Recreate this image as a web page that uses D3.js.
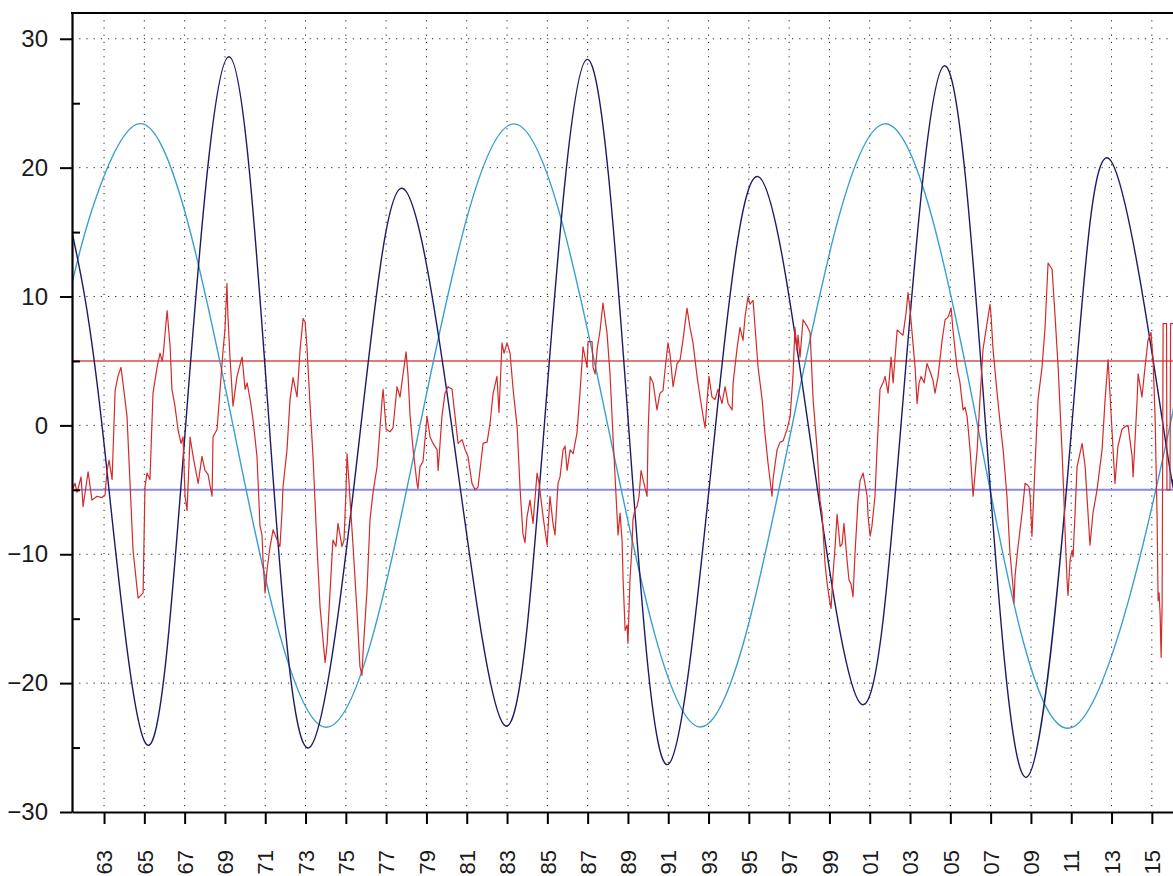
<!DOCTYPE html>
<html>
<head>
<meta charset="utf-8">
<script src="https://cdn.jsdelivr.net/npm/d3@7"></script>
<style>
  body { margin: 0; background: #fff; }
  svg { display: block; }
  .axis text { font-family: Arial, "Liberation Sans", sans-serif; font-size: 24px; fill: #1a1a1a; }
  .x-axis text { font-size: 22px; }
</style>
</head>
<body>
<div id="chart"></div>
<script>
// 画布
const width = 1173;
const height = 876;
const margin = { top: 13, right: 0, bottom: 64, left: 72 };

// 数据
const yearTicks = d3.range(1963, 2016, 2);
const majorTicks = [-30, -20, -10, 0, 10, 20, 30];
const minorTicks = [-25, -15, -5, 5, 15, 25];
const gridYValues = [-20, -10, 0, 10, 20, 30];
const upperLevel = 5;
const lowerLevel = -5;

// 深蓝色周期曲线（极值与过零点）
const navyPoints = [
  [1961.41, 15.0], [1962.9, 0], [1965.1, -24.75], [1967.05, 0], [1969.2, 28.6],
  [1971.2, 0], [1973.19, -25.0], [1975.75, 0], [1977.79, 18.4], [1980.25, 0],
  [1982.9, -23.3], [1984.85, 0], [1986.97, 28.4], [1989.03, 0], [1991.0, -26.3],
  [1993.35, 0], [1995.46, 19.3], [1997.95, 0], [2000.6, -21.65], [2002.55, 0],
  [2004.69, 27.9], [2006.75, 0], [2008.79, -27.3], [2011.03, 0], [2012.93, 20.6],
  [2015.56, 0], [2016.05, -4.2]
];

// 浅蓝色周期曲线
const lightBluePoints = [
  [1961.41, 11.0], [1962.5, 17.2], [1964.7, 23.4], [1966.9, 17.2], [1969.4, 0], [1973.9, -23.4], [1978.68, 0],
  [1983.35, 23.4], [1988.0, 0], [1992.6, -23.4], [1997.15, 0], [2001.75, 23.4],
  [2006.35, 0], [2011.1, -23.4], [2015.9, 0], [2016.05, 1.2]
];

// 红色曲线
const redPoints = [
  [1961.41,-5.0],[1961.56,-4.5],[1961.66,-5.2],[1961.86,-4.0],[1961.96,-6.3],[1962.21,-3.6],[1962.40,-5.8],[1962.65,-5.5],[1962.90,-5.6],[1963.05,-5.4],
  [1963.15,-3.5],[1963.25,-2.7],[1963.40,-4.2],[1963.55,2.7],[1963.69,3.8],[1963.84,4.5],[1963.94,3.3],[1964.14,0.7],[1964.29,-4.5],[1964.44,-9.7],
  [1964.69,-13.4],[1964.94,-13.0],[1965.03,-4.8],[1965.13,-3.7],[1965.28,-4.2],[1965.43,2.5],[1965.63,4.5],[1965.78,5.6],[1965.88,5.0],[1965.93,5.4],
  [1966.13,8.9],[1966.28,6.1],[1966.37,2.8],[1966.52,1.5],[1966.67,-0.3],[1966.82,-1.4],[1966.92,-0.9],[1967.02,-5.5],[1967.12,-6.6],[1967.27,-0.9],
  [1967.42,-2.4],[1967.67,-4.5],[1967.86,-2.4],[1968.01,-3.5],[1968.16,-3.8],[1968.36,-5.5],[1968.41,-0.9],[1968.61,-0.3],[1968.76,2.8],[1968.91,5.9],
  [1969.00,7.4],[1969.10,11.0],[1969.15,8.4],[1969.25,5.3],[1969.40,1.5],[1969.60,3.8],[1969.85,5.3],[1970.00,2.8],[1970.10,3.3],[1970.25,2.0],
  [1970.39,0.5],[1970.59,-2.4],[1970.74,-7.8],[1970.84,-8.5],[1970.89,-10.4],[1970.99,-13.0],[1971.09,-11.2],[1971.24,-9.4],[1971.39,-8.1],[1971.59,-8.9],
  [1971.73,-9.4],[1971.83,-6.8],[1971.88,-4.8],[1972.08,-1.9],[1972.23,2.0],[1972.38,3.7],[1972.58,2.2],[1972.73,5.9],[1972.88,8.3],[1972.98,8.0],
  [1973.07,6.1],[1973.22,1.7],[1973.37,-2.4],[1973.57,-9.4],[1973.72,-14.1],[1973.97,-18.4],[1974.07,-17.0],[1974.22,-12.8],[1974.36,-8.9],[1974.51,-9.4],
  [1974.61,-7.6],[1974.81,-9.4],[1974.91,-8.9],[1975.01,-5.0],[1975.06,-2.2],[1975.16,-4.5],[1975.21,-5.8],[1975.36,-9.4],[1975.56,-14.6],[1975.70,-18.7],
  [1975.80,-19.4],[1975.85,-17.7],[1976.05,-12.8],[1976.20,-7.3],[1976.35,-5.2],[1976.55,-3.2],[1976.80,2.0],[1976.85,2.8],[1977.00,-0.3],[1977.19,-0.5],
  [1977.34,-0.2],[1977.54,3.0],[1977.69,2.2],[1977.84,4.0],[1977.99,5.7],[1978.09,3.8],[1978.19,0.7],[1978.34,-1.9],[1978.53,-4.5],[1978.58,-4.9],
  [1978.68,-3.2],[1978.83,-2.8],[1979.03,0.7],[1979.18,-0.9],[1979.33,-1.4],[1979.53,-1.9],[1979.58,-3.5],[1979.77,0.7],[1979.92,2.5],[1980.07,3.0],
  [1980.27,2.8],[1980.42,0.7],[1980.57,-1.4],[1980.77,-1.1],[1980.92,-1.9],[1981.06,-2.4],[1981.26,-4.5],[1981.41,-5.0],[1981.56,-4.8],[1981.81,-1.4],
  [1982.01,-1.3],[1982.16,0.2],[1982.31,2.5],[1982.50,3.8],[1982.60,1.0],[1982.75,6.4],[1982.85,5.6],[1983.00,6.4],[1983.15,5.6],[1983.30,2.8],
  [1983.50,-0.1],[1983.65,-5.0],[1983.79,-8.4],[1983.89,-9.1],[1983.99,-7.1],[1984.14,-5.8],[1984.29,-7.6],[1984.49,-3.7],[1984.59,-4.5],[1984.79,-7.1],
  [1984.99,-9.3],[1985.13,-5.5],[1985.28,-7.6],[1985.38,-8.5],[1985.53,-4.5],[1985.63,-4.0],[1985.78,-1.9],[1985.88,-1.6],[1985.98,-3.5],[1986.13,-1.9],
  [1986.28,-2.2],[1986.47,-0.6],[1986.62,2.5],[1986.77,6.1],[1986.97,4.5],[1987.02,6.5],[1987.22,6.5],[1987.27,4.5],[1987.37,4.0],[1987.47,5.9],
  [1987.62,7.4],[1987.76,9.5],[1987.96,7.2],[1988.11,4.0],[1988.26,-0.9],[1988.46,-7.0],[1988.51,-8.5],[1988.61,-6.8],[1988.71,-9.0],[1988.76,-12.0],
  [1988.86,-15.9],[1988.96,-15.5],[1989.00,-16.9],[1989.10,-12.0],[1989.20,-9.4],[1989.25,-7.3],[1989.35,-6.5],[1989.45,-6.3],[1989.55,-5.5],[1989.65,-3.5],
  [1989.75,-4.2],[1989.95,-5.5],[1990.00,-0.6],[1990.10,3.8],[1990.25,3.3],[1990.44,1.2],[1990.59,2.5],[1990.74,2.7],[1990.84,4.3],[1990.99,6.4],
  [1991.09,5.5],[1991.24,3.0],[1991.44,4.8],[1991.59,5.1],[1991.73,6.6],[1991.93,9.1],[1992.08,7.6],[1992.23,6.4],[1992.43,3.8],[1992.58,2.2],
  [1992.73,0.7],[1992.83,-0.2],[1992.93,2.0],[1993.02,3.8],[1993.17,2.2],[1993.32,2.0],[1993.47,2.8],[1993.67,1.7],[1993.82,3.0],[1993.97,1.7],
  [1994.17,1.2],[1994.22,3.3],[1994.41,5.9],[1994.56,7.6],[1994.71,6.6],[1994.81,8.4],[1994.96,10.0],[1995.06,9.4],[1995.21,9.7],[1995.31,7.6],
  [1995.46,4.5],[1995.66,2.0],[1995.80,-0.6],[1995.95,-2.9],[1996.15,-5.5],[1996.20,-4.2],[1996.40,-1.9],[1996.55,-1.3],[1996.70,-1.2],[1996.90,-0.3],
  [1997.05,0.7],[1997.19,3.8],[1997.29,7.6],[1997.39,5.8],[1997.44,7.0],[1997.54,5.3],[1997.69,8.2],[1997.89,7.7],[1998.04,7.2],[1998.19,2.0],
  [1998.39,-1.9],[1998.53,-5.8],[1998.63,-6.8],[1998.78,-10.7],[1998.88,-12.2],[1998.98,-13.3],[1999.08,-14.2],[1999.18,-11.5],[1999.28,-9.4],[1999.38,-6.9],
  [1999.53,-9.4],[1999.63,-9.2],[1999.72,-7.6],[1999.87,-10.4],[1999.97,-12.0],[2000.07,-12.3],[2000.17,-13.3],[2000.27,-9.9],[2000.42,-5.8],[2000.52,-4.3],
  [2000.67,-3.7],[2000.87,-5.5],[2000.92,-7.1],[2001.02,-8.6],[2001.11,-7.8],[2001.26,-5.5],[2001.36,-1.9],[2001.51,2.8],[2001.66,3.3],[2001.76,3.8],
  [2001.91,2.5],[2002.06,5.3],[2002.16,3.3],[2002.36,7.4],[2002.50,7.2],[2002.65,7.0],[2002.80,8.7],[2002.90,10.3],[2003.00,9.0],[2003.10,7.2],
  [2003.25,4.5],[2003.35,1.7],[2003.45,3.3],[2003.55,3.8],[2003.70,3.3],[2003.84,4.8],[2003.99,4.2],[2004.14,3.5],[2004.24,2.5],[2004.39,3.8],
  [2004.59,6.6],[2004.74,8.2],[2004.89,8.4],[2005.04,9.1],[2005.13,7.4],[2005.33,4.5],[2005.48,3.3],[2005.63,1.2],[2005.73,1.4],[2005.83,0.7],
  [2005.98,-1.9],[2006.13,-5.5],[2006.33,-1.9],[2006.47,2.0],[2006.62,5.9],[2006.82,7.9],[2006.97,9.4],[2007.02,8.5],[2007.12,5.9],[2007.32,2.5],
  [2007.47,0.2],[2007.62,-1.9],[2007.81,-5.5],[2007.96,-9.9],[2008.11,-12.5],[2008.16,-13.8],[2008.21,-11.7],[2008.36,-9.4],[2008.56,-6.8],[2008.71,-4.5],
  [2008.81,-4.6],[2008.91,-4.8],[2008.96,-5.5],[2009.05,-8.6],[2009.10,-6.8],[2009.20,-3.2],[2009.35,2.0],[2009.55,4.5],[2009.70,7.6],[2009.85,12.6],
  [2010.05,12.1],[2010.20,8.4],[2010.35,4.5],[2010.54,-1.9],[2010.64,-5.8],[2010.69,-8.1],[2010.79,-12.0],[2010.84,-13.2],[2010.94,-10.5],[2011.04,-9.7],
  [2011.09,-10.2],[2011.19,-6.8],[2011.29,-3.2],[2011.54,-1.4],[2011.69,-3.2],[2011.93,-9.3],[2012.08,-6.8],[2012.28,-5.0],[2012.53,-1.9],[2012.68,2.0],
  [2012.83,5.1],[2013.03,-0.6],[2013.17,-4.5],[2013.32,-1.6],[2013.52,-0.3],[2013.67,-0.1],[2013.82,0.0],[2014.02,-2.4],[2014.07,-4.0],[2014.27,2.0],
  [2014.32,4.0],[2014.51,2.2],[2014.66,4.5],[2014.81,6.6],[2014.96,7.2],[2015.06,5.1],[2015.16,0.7],[2015.26,-7.1],[2015.31,-13.6],[2015.36,-13.0],
  [2015.41,-14.6],[2015.46,-18.0],[2015.51,-14.0],[2015.56,7.9],[2015.73,7.9],[2015.75,-5.0],[2015.90,-5.0],[2015.93,7.9],[2016.05,7.9]
];

const svg = d3.select("#chart").append("svg")
  .attr("width", width)
  .attr("height", height);

const x = d3.scaleLinear().domain([1961.41, 2016.05]).range([margin.left, width - margin.right]);
const y = d3.scaleLinear().domain([-30, 32]).range([height - margin.bottom, margin.top]);

svg.append("defs").append("clipPath").attr("id", "plot")
  .append("rect")
  .attr("x", margin.left).attr("y", margin.top)
  .attr("width", width - margin.left).attr("height", y(-30) - margin.top);

// 网格线
const grid = svg.append("g").attr("stroke", "#222").attr("stroke-width", 1).attr("stroke-dasharray", "1.2,6");
grid.selectAll(".vgrid").data(yearTicks).enter().append("line")
  .attr("x1", d => x(d)).attr("x2", d => x(d))
  .attr("y1", margin.top).attr("y2", y(-30));
grid.selectAll(".hgrid").data(gridYValues).enter().append("line")
  .attr("x1", margin.left).attr("x2", width)
  .attr("y1", d => y(d)).attr("y2", d => y(d));

const plot = svg.append("g").attr("clip-path", "url(#plot)");

// 水平参考线
plot.append("line")
  .attr("x1", margin.left).attr("x2", width)
  .attr("y1", y(upperLevel)).attr("y2", y(upperLevel))
  .attr("stroke", "#e07a7a").attr("stroke-width", 2);
plot.append("line")
  .attr("x1", margin.left).attr("x2", width)
  .attr("y1", y(lowerLevel)).attr("y2", y(lowerLevel))
  .attr("stroke", "#8a8ae0").attr("stroke-width", 2);

const smooth = d3.line().x(d => x(d[0])).y(d => y(d[1])).curve(d3.curveNatural);
const jagged = d3.line().x(d => x(d[0])).y(d => y(d[1]));

plot.append("path")
  .attr("d", smooth(lightBluePoints))
  .attr("fill", "none").attr("stroke", "#3a9fd0").attr("stroke-width", 1.4);

plot.append("path")
  .attr("d", smooth(navyPoints))
  .attr("fill", "none").attr("stroke", "#1c1c66").attr("stroke-width", 1.4);

plot.append("path")
  .attr("d", jagged(redPoints))
  .attr("fill", "none").attr("stroke", "#d42a2a").attr("stroke-width", 1.2)
  .attr("stroke-linejoin", "round");

// 坐标轴
svg.append("g")
  .attr("class", "axis")
  .attr("transform", `translate(${margin.left},0)`)
  .call(d3.axisLeft(y).tickValues(majorTicks).tickSize(12).tickSizeOuter(0).tickPadding(12).tickFormat(d3.format("d")));

svg.append("g")
  .attr("class", "axis")
  .attr("transform", `translate(${margin.left},0)`)
  .call(d3.axisRight(y).tickValues(minorTicks).tickSize(8).tickSizeOuter(0).tickFormat(""))
  .call(g => g.select(".domain").remove());

const xAxis = svg.append("g")
  .attr("class", "axis x-axis")
  .attr("transform", `translate(0,${y(-30)})`)
  .call(d3.axisBottom(x).tickValues(yearTicks).tickSize(12).tickSizeOuter(0)
    .tickFormat(d => String(d % 100).padStart(2, "0")));

xAxis.selectAll("text")
  .attr("transform", "rotate(-90)")
  .attr("text-anchor", "end")
  .attr("x", -38)
  .attr("y", 0)
  .attr("dy", "0.35em");

svg.selectAll(".axis .tick line").attr("stroke", "#000").attr("stroke-width", 2);
svg.selectAll(".axis .domain").attr("stroke", "#000").attr("stroke-width", 2.2);

// 顶部边框
svg.append("line")
  .attr("x1", margin.left - 1).attr("x2", width)
  .attr("y1", margin.top).attr("y2", margin.top)
  .attr("stroke", "#000").attr("stroke-width", 2.2);
</script>
</body>
</html>
